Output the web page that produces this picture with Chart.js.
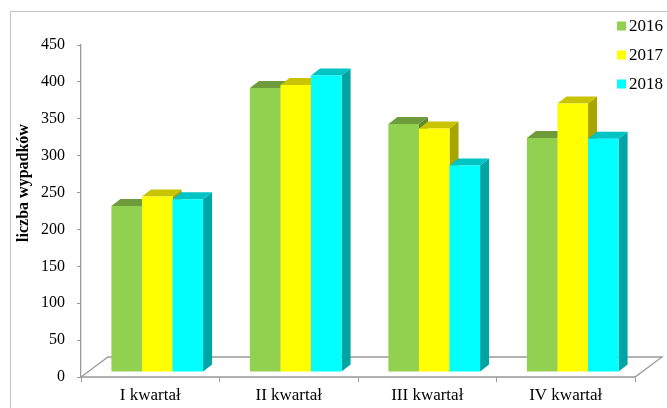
<!DOCTYPE html>
<html>
<head>
<meta charset="utf-8">
<script src="https://cdn.jsdelivr.net/npm/chart.js@4/dist/chart.umd.min.js"></script>
<style>
  html, body { margin: 0; padding: 0; background: #ffffff; }
  #wrap { width: 667px; height: 408px; position: relative; }
</style>
</head>
<body>
<div id="wrap"><canvas id="c" width="667" height="408"></canvas></div>
<script>
// Quarterly accident counts by year
const categories = ['I kwartał', 'II kwartał', 'III kwartał', 'IV kwartał'];
const years = ['2016', '2017', '2018'];
const values2016 = [225, 385, 336, 317];
const values2017 = [238, 389, 330, 364];
const values2018 = [234, 402, 280, 316];
const yMin = 0, yMax = 450, yStep = 50;
const yTitle = 'liczba wypadków';

// Face colours: front, top, side
const palette = [
  { front: '#92D050', top: '#6E9B3C', side: '#5E8A30' },
  { front: '#FFFF00', top: '#C8C400', side: '#A8A400' },
  { front: '#00FFFF', top: '#00C4C4', side: '#00A4A4' }
];

const SERIF = '"Liberation Serif", "Times New Roman", serif';
const AXIS_GREY = '#9a9a9a';

// Oblique projection used for the pseudo-3D look
const BAR_DX = 9, BAR_DY = 7;       // depth of each column
const SHIFT_X = 7, SHIFT_Y = -5;    // columns sit slightly behind the front edge
const FLOOR_DX = 27, FLOOR_DY = 20; // depth of the floor

const frame3d = {
  id: 'frame3d',
  beforeDraw(chart) {
    const ctx = chart.ctx;
    ctx.save();
    ctx.strokeStyle = '#c4c4c4';
    ctx.lineWidth = 1;
    ctx.strokeRect(10.5, 11.5, 800, 600);
    ctx.restore();
  },
  beforeDatasetsDraw(chart) {
    const { left, right, bottom } = chart.chartArea;
    const ctx = chart.ctx;
    ctx.save();
    ctx.beginPath();
    ctx.moveTo(left, bottom);
    ctx.lineTo(left + FLOOR_DX, bottom - FLOOR_DY);
    ctx.lineTo(right + FLOOR_DX, bottom - FLOOR_DY);
    ctx.lineTo(right, bottom);
    ctx.closePath();
    ctx.fillStyle = '#ffffff';
    ctx.fill();
    ctx.strokeStyle = AXIS_GREY;
    ctx.lineWidth = 1.3;
    ctx.stroke();
    ctx.restore();
  },
  // Columns are painted below, category by category, left to right,
  // so that each column hides the side face of its left neighbour.
  beforeDatasetDraw() {
    return false;
  },
  afterDatasetsDraw(chart) {
    const ctx = chart.ctx;
    const metas = chart.data.datasets.map((_, i) => chart.getDatasetMeta(i));
    ctx.save();
    ctx.translate(SHIFT_X, SHIFT_Y);
    for (let j = 0; j < categories.length; j++) {
      metas.forEach((meta, i) => {
        const el = meta.data[j];
        if (!el) return;
        const col = palette[i];
        const { x, y, base, width } = el.getProps(['x', 'y', 'base', 'width'], true);
        const l = x - width / 2, r = x + width / 2;
        // side face
        ctx.beginPath();
        ctx.moveTo(r, y);
        ctx.lineTo(r + BAR_DX, y - BAR_DY);
        ctx.lineTo(r + BAR_DX, base - BAR_DY);
        ctx.lineTo(r, base);
        ctx.closePath();
        ctx.fillStyle = col.side;
        ctx.fill();
        // top face
        ctx.beginPath();
        ctx.moveTo(l, y);
        ctx.lineTo(l + BAR_DX, y - BAR_DY);
        ctx.lineTo(r + BAR_DX, y - BAR_DY);
        ctx.lineTo(r, y);
        ctx.closePath();
        ctx.fillStyle = col.top;
        ctx.fill();
        // front face
        el.draw(ctx);
      });
    }
    ctx.restore();
  },
  afterDraw(chart) {
    const ctx = chart.ctx;
    // rotated axis title
    ctx.save();
    ctx.translate(24, 183);
    ctx.rotate(-Math.PI / 2);
    ctx.font = 'bold 16px ' + SERIF;
    ctx.fillStyle = '#000';
    ctx.textAlign = 'center';
    ctx.textBaseline = 'middle';
    ctx.fillText(yTitle, 0, 0);
    ctx.restore();
    // legend in the upper right corner
    ctx.save();
    ctx.font = '17px ' + SERIF;
    ctx.textBaseline = 'middle';
    ctx.textAlign = 'left';
    const rows = [26, 55, 84];
    chart.data.datasets.forEach((ds, i) => {
      const cy = rows[i];
      ctx.fillStyle = ds.backgroundColor;
      ctx.fillRect(617, cy - 4.5, 9, 9);
      ctx.fillStyle = '#000';
      ctx.fillText(ds.label, 629, cy + 1);
    });
    ctx.restore();
  }
};

const seriesValues = [values2016, values2017, values2018];

new Chart(document.getElementById('c'), {
  type: 'bar',
  data: {
    labels: categories,
    datasets: years.map((yr, i) => ({
      label: yr,
      data: seriesValues[i],
      backgroundColor: palette[i].front,
      borderWidth: 0,
      categoryPercentage: 0.662,
      barPercentage: 1.0,
      clip: false
    }))
  },
  options: {
    responsive: false,
    animation: false,
    layout: { padding: { left: 0, top: 45, right: 32, bottom: 0 } },
    plugins: {
      legend: { display: false },
      tooltip: { enabled: false }
    },
    scales: {
      x: {
        offset: true,
        grid: {
          display: true,
          offset: true,
          drawOnChartArea: false,
          drawTicks: true,
          tickLength: 5,
          color: AXIS_GREY
        },
        border: { display: true, color: AXIS_GREY, width: 1.3 },
        ticks: { font: { family: SERIF, size: 17 }, color: '#000', padding: 3 },
        afterFit(scale) { scale.height = 31; }
      },
      y: {
        min: yMin,
        max: yMax,
        grid: {
          display: true,
          drawOnChartArea: false,
          drawTicks: true,
          tickLength: 4,
          color: AXIS_GREY
        },
        border: { display: true, color: AXIS_GREY, width: 1.3 },
        ticks: {
          stepSize: yStep,
          font: { family: SERIF, size: 16 },
          color: '#000',
          padding: 12
        },
        afterFit(scale) { scale.width = 81; }
      }
    }
  },
  plugins: [frame3d]
});
</script>
</body>
</html>
